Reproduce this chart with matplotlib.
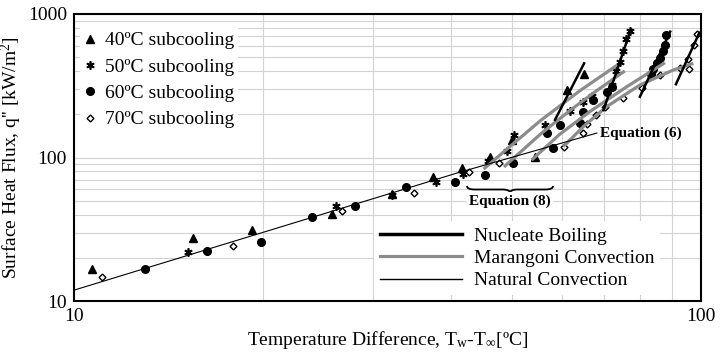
import matplotlib.pyplot as plt
from matplotlib.path import Path
import matplotlib.patches as mpatches

plt.rcParams['font.family'] = ['Liberation Serif', 'DejaVu Serif']
plt.rcParams['mathtext.fontset'] = 'custom'
plt.rcParams['mathtext.rm'] = 'Liberation Serif'
plt.rcParams['mathtext.it'] = 'Liberation Serif:italic'

# measured points: wall superheat dT [C], heat flux q [kW/m2]
dt40 = [10.7, 15.5, 19.2, 25.8, 32.2, 37.4, 41.5, 46.1, 49.9, 54.3, 61.1, 65.1]
q40 = [16.6, 27.6, 31.3, 40.2, 55.4, 72.8, 84.1, 101, 132, 101, 295, 382]

dt50 = [15.2, 26.2, 32.2, 37.8, 41.8, 45.8, 49.0, 50.3, 56.4, 61.8, 64.8, 66.9,
        72.0, 73.1, 74.3, 75.2, 76.0, 77.0]
q50 = [22.1, 45.9, 55.0, 67.8, 76.7, 95, 111, 143, 168, 212, 245, 268,
       320, 400, 465, 548, 670, 765]

dt60 = [13.0, 16.3, 19.9, 24.0, 28.1, 33.9, 40.5, 45.2, 50.1, 56.9, 58.0, 59.6,
        64.1, 64.9, 67.3, 70.7, 72.0, 83.2, 83.8, 85.1, 86.0, 86.9, 87.6, 87.8]
q60 = [16.6, 22.3, 25.9, 38.7, 46.1, 62.6, 67.8, 75.1, 91.1, 147, 116, 168,
       173, 209, 252, 287, 311, 382, 414, 456, 493, 552, 608, 714]

dt70 = [11.1, 17.9, 26.8, 34.8, 42.7, 47.7, 60.5, 64.8, 65.9, 68.0, 70.3, 75.1,
        80.4, 86.0, 92.6, 95.8, 95.4, 97.5, 98.4]
q70 = [14.8, 24.0, 42.4, 56.8, 79.6, 92, 118, 149, 171, 198, 224, 259,
       304, 376, 418, 412, 483, 608, 731]

# fitted lines
nb_dt = [[58.5, 65.1], [69.9, 77.3], [79.9, 89.3], [91.2, 99.4]]
nb_q = [[183, 453], [214, 782], [265, 753], [324, 741]]

mar_dt = [[45.0, 50.1, 55.4, 64.1, 73.5],
          [48.5, 55.4, 62.0, 68.0, 75.6],
          [53.7, 59.5, 66.5, 76.1, 87.6],
          [60.3, 65.0, 70.7, 79.9, 90.3, 97.2]]
mar_q = [[83, 124, 180, 292, 440],
         [86, 145, 215, 290, 401],
         [96, 145, 209, 311, 458],
         [119, 165, 226, 320, 407, 453]]

nat_dt = [10, 41, 68.2]
nat_q = [11.9, 78.4, 148]

FS = 14

fig = plt.figure(figsize=(7.22, 3.52), dpi=100)
ax = fig.add_axes([74/722, 1-301/352, 627/722, 287/352])
ax.set_xscale('log')
ax.set_yscale('log')
ax.set_xlim(10, 100)
ax.set_ylim(10, 1000)

ax.grid(True, which='both', color='#d3d3d3', lw=0.8, zorder=0)
ax.set_axisbelow(True)
ax.tick_params(which='both', length=0, labelsize=FS, pad=5)
ax.xaxis.set_minor_formatter(plt.NullFormatter())
ax.yaxis.set_minor_formatter(plt.NullFormatter())
ax.set_xticks([10, 100])
ax.set_xticklabels(['10', '100'])
ax.set_yticks([10, 100, 1000])
ax.set_yticklabels(['10', '100', '1000'])
for s in ax.spines.values():
    s.set_linewidth(1.5)

h40, = ax.plot(dt40, q40, '^', color='k', ms=5.5, ls='none', zorder=3)
h50, = ax.plot(dt50, q50, marker=(6, 2, 0), color='k', mew=1.2, ms=6, ls='none', zorder=3)
h60, = ax.plot(dt60, q60, 'o', color='k', ms=5.5, ls='none', zorder=3)
h70, = ax.plot(dt70, q70, 'D', mfc='white', mec='k', mew=1.0, ms=3.5, ls='none', zorder=3)

for xs, ys in zip(mar_dt, mar_q):
    ax.plot(xs, ys, color='#8c8c8c', lw=2.3, solid_capstyle='butt',
            solid_joinstyle='round', zorder=4)
for xs, ys in zip(nb_dt, nb_q):
    ax.plot(xs, ys, color='k', lw=1.8, zorder=5)
ax.plot(nat_dt, nat_q, color='k', lw=0.8, zorder=4)

leg1 = ax.legend([h40, h50, h60, h70],
                 ['40ºC subcooling', '50ºC subcooling', '60ºC subcooling', '70ºC subcooling'],
                 loc='upper left', bbox_to_anchor=(0.0, 0.972), fontsize=FS,
                 handlelength=0.66, handletextpad=0.44, labelspacing=0.45,
                 borderpad=0.2, borderaxespad=0.3, frameon=True, framealpha=1,
                 facecolor='white', edgecolor='none', fancybox=False)
ax.add_artist(leg1)

nb_h = plt.Line2D([], [], color='k', lw=2.5)
mar_h = plt.Line2D([], [], color='#8c8c8c', lw=2.3)
nat_h = plt.Line2D([], [], color='k', lw=1.0)
leg2 = ax.legend([nb_h, mar_h, nat_h],
                 ['Nucleate Boiling', 'Marangoni Convection', 'Natural Convection'],
                 loc='lower left', bbox_to_anchor=(0.478, 0.02), fontsize=FS,
                 handlelength=4.23, handletextpad=0.63, labelspacing=0.24,
                 borderpad=0.3, frameon=True, framealpha=1, facecolor='white',
                 edgecolor='none', fancybox=False, borderaxespad=0)
leg2.set_zorder(6)

# underbrace for Equation (8)
x0, x1 = (467-74)/627, (553-74)/627
xm = (x0 + x1) / 2
yh, yl, yt = (301-186)/287, (301-189.5)/287, (301-193)/287
d = 0.012
verts = [(x0, yh), (x0, yl), (x0+d, yl), (xm-d, yl), (xm, yl), (xm, yt),
         (xm, yl), (xm+d, yl), (x1-d, yl), (x1, yl), (x1, yh)]
codes = [Path.MOVETO, Path.CURVE3, Path.CURVE3, Path.LINETO, Path.CURVE3, Path.CURVE3,
         Path.CURVE3, Path.CURVE3, Path.LINETO, Path.CURVE3, Path.CURVE3]
ax.add_patch(mpatches.PathPatch(Path(verts, codes), transform=ax.transAxes,
                                fc='none', ec='k', lw=1.3, zorder=6))
ax.text(xm, (301-201)/287, 'Equation (8)', transform=ax.transAxes, ha='center', va='center',
        fontsize=11, fontweight='bold', zorder=6,
        bbox=dict(fc='white', ec='none', pad=1.5))
ax.text((600-74)/627, (301-133)/287, 'Equation (6)', transform=ax.transAxes, ha='left',
        va='center', fontsize=11, fontweight='bold', zorder=6)

ax.set_xlabel('Temperature Difference, T$_\\mathrm{w}$-T$_\\infty$[ºC]', fontsize=FS, labelpad=3)
ax.set_ylabel("Surface Heat Flux, q'' [kW/m$^2$]", fontsize=FS, labelpad=3)

fig.savefig('out.png', dpi=100)
